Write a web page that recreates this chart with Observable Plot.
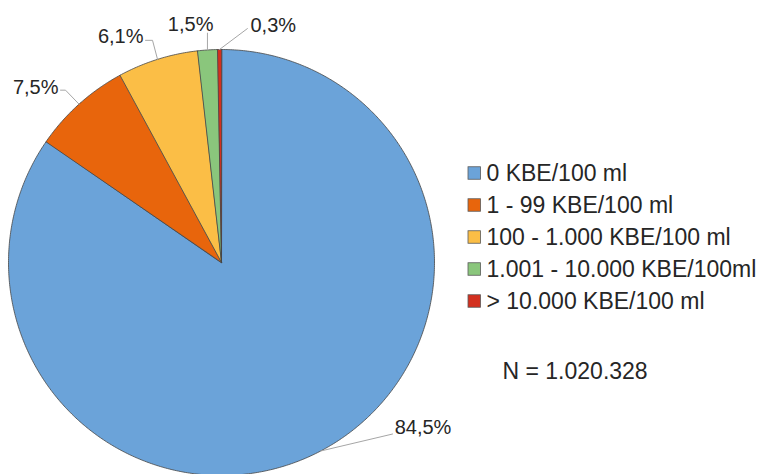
<!DOCTYPE html>
<html>
<head>
<meta charset="utf-8">
<script src="https://cdn.jsdelivr.net/npm/d3@7"></script>
<script src="https://cdn.jsdelivr.net/npm/@observablehq/plot@0.6"></script>
<style>
  html, body { margin: 0; padding: 0; background: #fff; overflow: hidden; }
  #chart svg { display: block; }
</style>
</head>
<body>
<div id="chart"></div>
<script>
// Categories of bacterial counts (KBE = koloniebildende Einheiten) and their shares in percent
const categories = [
  "0 KBE/100 ml",
  "1 - 99 KBE/100 ml",
  "100 - 1.000 KBE/100 ml",
  "1.001 - 10.000 KBE/100ml",
  "> 10.000 KBE/100 ml"
];
const shares = [84.5, 7.5, 6.1, 1.5, 0.3];
const colors = ["#6ba3d9", "#e8650c", "#fbbe46", "#8ac67c", "#d3301f"];
const sampleSize = 1020328;

// German number formatting: decimal comma, thousands dot
const de = d3.formatLocale({decimal: ",", thousands: ".", grouping: [3], currency: ["", " €"]});
const pct = v => de.format(".1f")(v) + "%";
const totalLabel = "N = " + de.format(",d")(sampleSize);

// Canvas and pie geometry (pixels)
const W = 759, H = 474;
const cx = 221, cy = 262, R = 213;
const font = "'Liberation Sans', Arial, Helvetica, sans-serif";

// Leader-line layout per slice: elbow offset from the rim point, horizontal tail, text placement
const leaderLayout = [
  {ex: 72, ey: -17, tail: 0, anchor: "start", tx: 2, ty: -6},
  {ex: -13.5, ey: -14, tail: -5, anchor: "end", tx: -2, ty: -3},
  {ex: -5, ey: -19, tail: -7, anchor: "end", tx: -2, ty: -4},
  {ex: 0, ey: -17, tail: 0, anchor: "end", tx: 6, ty: -8},
  {ex: 28, ey: -21, tail: 0, anchor: "start", tx: 3, ty: -3}
];

const rows = categories.map((category, i) => ({category, share: shares[i], i}));
const arcs = d3.pie().sort(null).value(d => d.share)(rows);

const px = a => cx + R * Math.sin(a);
const py = a => cy - R * Math.cos(a);

// Slice outlines: centre plus points along the arc
const slicePoints = arcs.flatMap(a => {
  const n = Math.max(2, Math.ceil((a.endAngle - a.startAngle) / (Math.PI / 360)));
  const pts = [{x: cx, y: cy, category: a.data.category}];
  for (let k = 0; k <= n; k++) {
    const t = a.startAngle + (a.endAngle - a.startAngle) * k / n;
    pts.push({x: px(t), y: py(t), category: a.data.category});
  }
  return pts;
});

// Leader lines and value labels
const leaders = [];
const labels = [];
arcs.forEach((a, i) => {
  const L = leaderLayout[i];
  const mid = (a.startAngle + a.endAngle) / 2;
  const x0 = px(mid), y0 = py(mid);
  const x1 = x0 + L.ex, y1 = y0 + L.ey;
  const x2 = x1 + L.tail;
  leaders.push({x: x0, y: y0, i}, {x: x1, y: y1, i}, {x: x2, y: y1, i});
  labels.push({x: x2 + L.tx, y: y1 + L.ty, text: pct(a.data.share), anchor: L.anchor});
});

// Legend rows
const legendX = 468, legendTop = 173, legendStep = 32, swatch = 12.5;
const legend = categories.map((category, i) => ({category, y: legendTop + i * legendStep}));

const chart = Plot.plot({
  width: W,
  height: H,
  margin: 0,
  x: {domain: [0, W], range: [0, W], axis: null},
  y: {domain: [0, H], range: [0, H], axis: null},
  color: {domain: categories, range: colors},
  style: {fontFamily: font, background: "#fff", overflow: "visible"},
  marks: [
    Plot.line(slicePoints, {
      x: "x", y: "y", z: "category", fill: "category",
      stroke: "#454545", strokeWidth: 0.8, curve: "linear-closed"
    }),
    Plot.line(leaders, {x: "x", y: "y", z: "i", stroke: "#a6a6a6", strokeWidth: 1}),
    Plot.text(labels, {
      filter: d => d.anchor === "start", x: "x", y: "y", text: "text",
      textAnchor: "start", fontSize: 20, fill: "#262626"
    }),
    Plot.text(labels, {
      filter: d => d.anchor === "end", x: "x", y: "y", text: "text",
      textAnchor: "end", fontSize: 20, fill: "#262626"
    }),
    Plot.rect(legend, {
      x1: () => legendX, x2: () => legendX + swatch,
      y1: d => d.y - swatch / 2, y2: d => d.y + swatch / 2,
      fill: "category", stroke: "#5a5a5a", strokeWidth: 0.8
    }),
    Plot.text(legend, {
      x: () => legendX + swatch + 5.5, y: "y", text: "category",
      textAnchor: "start", fontSize: 23, fill: "#262626"
    }),
    Plot.text([totalLabel], {
      x: () => 502, y: () => 371, text: d => d,
      textAnchor: "start", fontSize: 23, fill: "#262626"
    })
  ]
});

document.getElementById("chart").appendChild(chart);
</script>
</body>
</html>
